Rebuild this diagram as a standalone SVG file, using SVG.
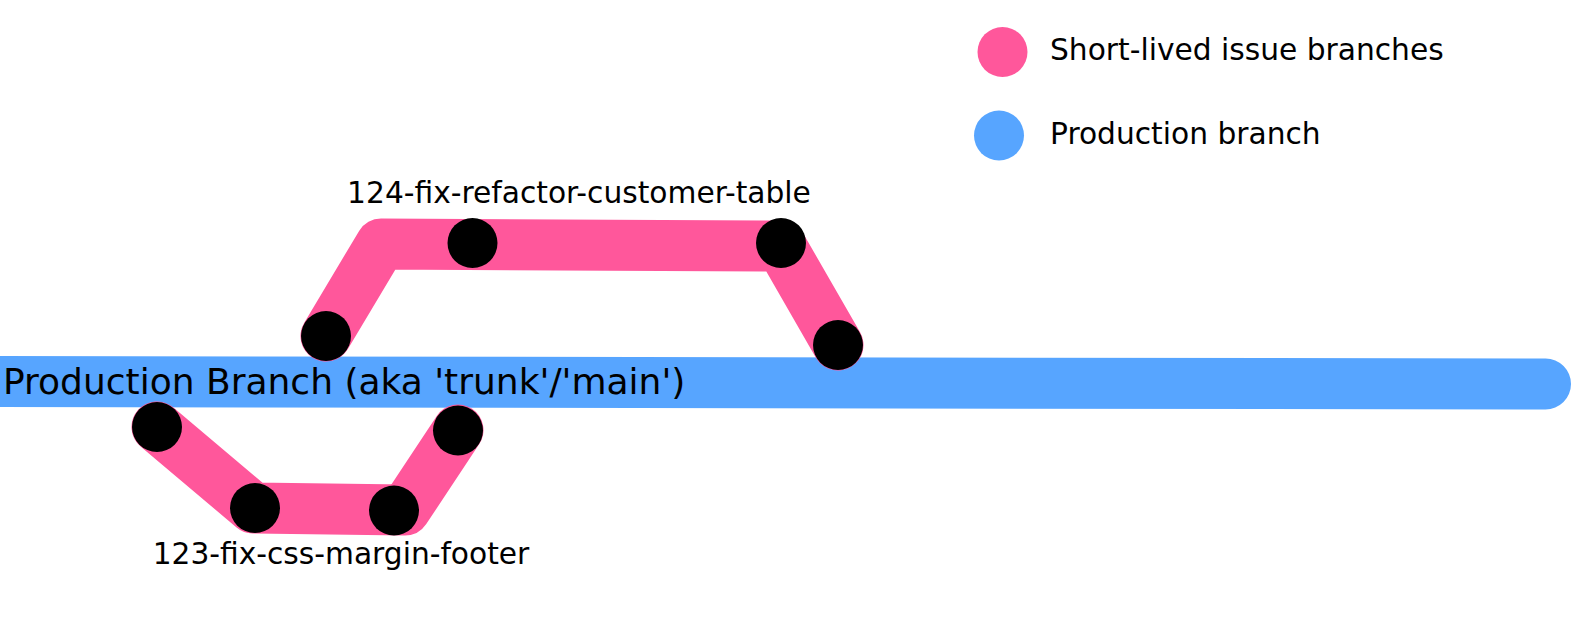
<svg xmlns="http://www.w3.org/2000/svg" width="1595" height="627" viewBox="0 0 1595 627">
  <style>
    .lbl { font-family: "DejaVu Sans", "Liberation Sans", sans-serif; font-size: 29.7px; fill: #000; }
    .main { font-family: "DejaVu Sans", "Liberation Sans", sans-serif; font-size: 36px; fill: #000; }
    .pink { fill: none; stroke: #ff579b; stroke-width: 51; stroke-linejoin: round; stroke-linecap: round; }
    .blue { fill: none; stroke: #57a5ff; stroke-width: 51; stroke-linecap: round; }
    .commit { fill: #000; }
  </style>
  <rect width="1595" height="627" fill="#fff"/>
  <g id="connectors">
    <path id="production-branch" class="blue" d="M -40 381.5 L 1545.5 384"/>
    <path id="branch-124" class="pink" d="M 326 336 L 381 244 L 781 246 L 838 345"/>
    <path id="branch-123" class="pink" d="M 157 427 L 253 508 L 405 510 L 458 430"/>
  </g>
  <text class="main" x="3" y="394">Production Branch (aka 'trunk'/'main')</text>
  <text class="lbl" x="579" y="203" text-anchor="middle">124-fix-refactor-customer-table</text>
  <text class="lbl" x="341" y="564" text-anchor="middle">123-fix-css-margin-footer</text>
  <g id="c124-1"><circle class="commit" cx="326" cy="336" r="25"/></g>
  <g id="c124-2"><circle class="commit" cx="472.5" cy="243" r="25"/></g>
  <g id="c124-3"><circle class="commit" cx="781" cy="243" r="25"/></g>
  <g id="c124-4"><circle class="commit" cx="838" cy="345" r="25"/></g>
  <g id="c123-1"><circle class="commit" cx="157" cy="427" r="25"/></g>
  <g id="c123-2"><circle class="commit" cx="255" cy="508" r="25"/></g>
  <g id="c123-3"><circle class="commit" cx="394" cy="510.5" r="25"/></g>
  <g id="c123-4"><circle class="commit" cx="458" cy="430.5" r="25"/></g>
  <g id="legend">
    <g id="legend-short-lived">
      <circle cx="1002.5" cy="52" r="25" fill="#ff579b"/>
      <text class="lbl" x="1050" y="60">Short-lived issue branches</text>
    </g>
    <g id="legend-production">
      <circle cx="999" cy="135.5" r="25" fill="#57a5ff"/>
      <text class="lbl" x="1050" y="144">Production branch</text>
    </g>
  </g>
</svg>
